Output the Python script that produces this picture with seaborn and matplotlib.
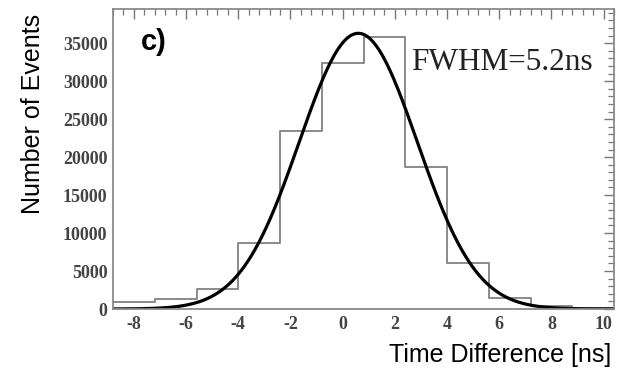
import numpy as np
import pandas as pd
import matplotlib
matplotlib.use("Agg")
import matplotlib.pyplot as plt
import seaborn as sns
from matplotlib.ticker import MultipleLocator

# ---- data ----
bin_edges = [-8.8, -7.2, -5.6, -4.0, -2.4, -0.8, 0.8, 2.4, 4.0, 5.6, 7.2, 8.8, 10.4]
bin_counts = [950, 1300, 2650, 8750, 23500, 32400, 35800, 18700, 6000, 1400, 400, 100]
fit_mean = 0.6      # ns
fit_sigma = 2.26    # ns
fit_amp = 36300     # events
x_ticks = [-8, -6, -4, -2, 0, 2, 4, 6, 8, 10]
y_ticks = [0, 5000, 10000, 15000, 20000, 25000, 30000, 35000]
annotation = "FWHM=5.2ns"
panel_label = "c)"
x_label = "Time Difference [ns]"
y_label = "Number of Events"

sns.set_theme(style="white")
plt.rcParams["axes.unicode_minus"] = False

centers = [(a + b) / 2 for a, b in zip(bin_edges[:-1], bin_edges[1:])]
hist_df = pd.DataFrame({"t": centers, "n": bin_counts})

xs = np.linspace(bin_edges[0], bin_edges[-1], 600)
fit_df = pd.DataFrame({"t": xs,
                       "n": fit_amp * np.exp(-0.5 * ((xs - fit_mean) / fit_sigma) ** 2)})

fig = plt.figure(figsize=(6.25, 3.81), dpi=100)
ax = fig.add_axes([113 / 625, 1 - 309 / 381, (614 - 113) / 625, 300 / 381])

sns.histplot(data=hist_df, x="t", weights="n", bins=bin_edges, element="step",
             fill=False, color="#8a8a8a", linewidth=1.4, ax=ax)
sns.lineplot(data=fit_df, x="t", y="n", color="black", linewidth=2.3, ax=ax)

ax.set_xlim(bin_edges[0], bin_edges[-1])
ax.set_ylim(0, 39500)
ax.set_xticks(x_ticks)
ax.set_yticks(y_ticks)
ax.xaxis.set_minor_locator(MultipleLocator(0.4))
ax.yaxis.set_minor_locator(MultipleLocator(1000))
ax.tick_params(which="both", direction="in", top=True, right=True, colors="#777777",
               labelcolor="#444444")
ax.tick_params(which="major", length=7, width=1.0)
ax.tick_params(which="minor", length=4, width=0.9)
ax.tick_params(axis="x", pad=5)
ax.tick_params(axis="y", pad=4)
for lab in ax.get_xticklabels() + ax.get_yticklabels():
    lab.set_fontfamily("Liberation Serif")
    lab.set_fontsize(13)
    lab.set_fontweight("bold")
for s in ax.spines.values():
    s.set_color("#8a8a8a")
    s.set_linewidth(1.3)
ax.set_xlabel("")
ax.set_ylabel("")

ax.text(0.056, 0.935, panel_label, transform=ax.transAxes, ha="left", va="top",
        fontsize=21, fontweight="bold", family="Liberation Sans", color="black")
ax.text(0.595, 0.82, annotation, transform=ax.transAxes, ha="left", va="center",
        fontsize=22.5, family="Liberation Serif", color="#222222")

fig.text(33 / 625, 1 - 114 / 381, y_label, rotation=90, ha="center", va="center",
         fontsize=18, family="Liberation Sans", color="black")
fig.text(611 / 625, 1 - 355 / 381, x_label, ha="right", va="center",
         fontsize=18, family="Liberation Sans", color="black")

fig.savefig("out.png", dpi=100, facecolor="white")
